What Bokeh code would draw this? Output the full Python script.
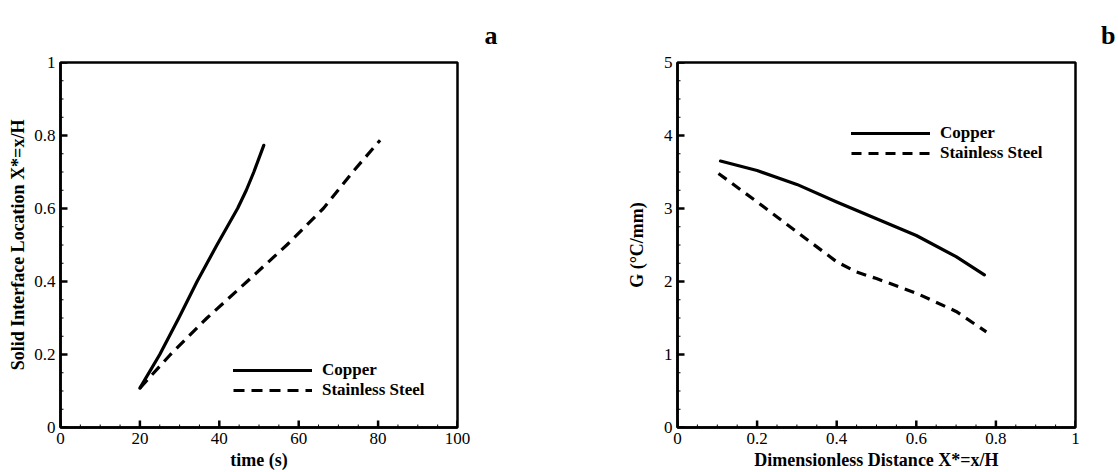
import math
from bokeh.plotting import figure
from bokeh.layouts import row
from bokeh.models import Legend, LegendItem, FixedTicker, Range1d
from bokeh.embed import file_html
from bokeh.resources import INLINE

# Panel a data
time_cu = [20, 25, 29.8, 34.4, 39.4, 44.6, 46.8, 48.7, 51.2]
loc_cu = [0.108, 0.2, 0.3, 0.4, 0.5, 0.6, 0.65, 0.7, 0.773]
time_ss = [20, 27.7, 36.9, 47.0, 57.0, 66.2, 73.6, 80.5]
loc_ss = [0.108, 0.2, 0.3, 0.4, 0.5, 0.6, 0.7, 0.787]

# Panel b data
dist_cu = [0.108, 0.2, 0.3, 0.4, 0.5, 0.6, 0.7, 0.771]
g_cu = [3.65, 3.52, 3.33, 3.09, 2.86, 2.63, 2.34, 2.09]
dist_ss = [0.103, 0.2, 0.3, 0.4, 0.45, 0.5, 0.6, 0.7, 0.776]
g_ss = [3.48, 3.09, 2.68, 2.27, 2.13, 2.04, 1.84, 1.59, 1.31]

x_ticks_a = [0, 20, 40, 60, 80, 100]
y_ticks_a = [0, 0.2, 0.4, 0.6, 0.8, 1]
x_ticks_b = [0, 0.2, 0.4, 0.6, 0.8, 1]
y_ticks_b = [0, 1, 2, 3, 4, 5]

SERIF = "Liberation Serif"


def minors(t):
    return [t[i] + (t[i + 1] - t[i]) * k / 4 for i in range(len(t) - 1) for k in range(1, 4)]


def style(p, xticks, yticks, xlabel, ylabel):
    p.xaxis.ticker = FixedTicker(ticks=xticks, minor_ticks=[])
    p.yaxis.ticker = FixedTicker(ticks=yticks, minor_ticks=[])
    for ax in (p.xaxis[0], p.yaxis[0]):
        ax.axis_line_width = 2.5
        ax.axis_line_color = "black"
        ax.major_tick_in = 0
        ax.major_tick_out = 0
        ax.minor_tick_in = 0
        ax.minor_tick_out = 0
        ax.major_label_text_font = SERIF
        ax.major_label_text_font_size = "17px"
        ax.major_label_text_color = "black"
        ax.axis_label_text_font = SERIF
        ax.axis_label_text_font_size = "18px"
        ax.axis_label_text_font_style = "bold"
        ax.axis_label_text_color = "black"
        ax.major_label_standoff = 5
        ax.axis_label_standoff = 3
    p.xaxis.axis_label = xlabel
    p.yaxis.axis_label = ylabel
    p.xgrid.visible = False
    p.ygrid.visible = False
    p.outline_line_color = "black"
    p.outline_line_width = 2.5
    p.outline_line_alpha = 1.0
    p.title.align = "right"
    p.title.offset = -40
    p.title.text_font = SERIF
    p.title.text_font_style = "bold"
    p.title.text_font_size = "26px"
    p.title.text_color = "black"
    p.title.standoff = 26
    # inward tick marks: dash markers centred on the axis lines (outer half clipped by the frame)
    x0 = p.x_range.start
    y0 = p.y_range.start
    p.scatter(xticks, [y0] * len(xticks), marker="dash", angle=math.pi / 2, size=14,
              line_color="black", line_width=2.5)
    p.scatter(minors(xticks), [y0] * len(minors(xticks)), marker="dash", angle=math.pi / 2, size=6,
              line_color="black", line_width=1)
    p.scatter([x0] * len(yticks), yticks, marker="dash", size=14, line_color="black", line_width=2.5)
    p.scatter([x0] * len(minors(yticks)), minors(yticks), marker="dash", size=6,
              line_color="black", line_width=1)


def add_legend(p, r1, r2, loc):
    leg = Legend(items=[LegendItem(label="Copper", renderers=[r1]),
                        LegendItem(label="Stainless Steel", renderers=[r2])],
                 location=loc, glyph_width=79, glyph_height=20, label_height=20,
                 label_standoff=10, spacing=0, padding=0, margin=0,
                 border_line_color=None, background_fill_alpha=0,
                 label_text_font=SERIF, label_text_font_style="bold",
                 label_text_font_size="17px", label_text_color="black")
    p.add_layout(leg)


# Panel a
pa = figure(width=560, height=472, output_backend="svg", toolbar_location=None,
            title="a", x_range=Range1d(0, 100), y_range=Range1d(0, 1),
            min_border_left=60, min_border_right=103, min_border_top=62, min_border_bottom=44)
style(pa, x_ticks_a, y_ticks_a, "time (s)", "Solid Interface Location X*=x/H")
ra1 = pa.line(time_cu, loc_cu, line_width=3.2, line_color="black", line_cap="round", line_join="round")
ra2 = pa.line(time_ss, loc_ss, line_width=3.2, line_color="black", line_dash="11 7")
add_legend(pa, ra1, ra2, (173, 27))

# Panel b
pb = figure(width=558, height=472, output_backend="svg", toolbar_location=None,
            title="b", x_range=Range1d(0, 1), y_range=Range1d(0, 5),
            min_border_left=117, min_border_right=43, min_border_top=62, min_border_bottom=44)
style(pb, x_ticks_b, y_ticks_b, "Dimensionless Distance X*=x/H", "G (°C/mm)")
pb.yaxis[0].axis_label_standoff = 14
rb1 = pb.line(dist_cu, g_cu, line_width=3.2, line_color="black", line_cap="round", line_join="round")
rb2 = pb.line(dist_ss, g_ss, line_width=3.2, line_color="black", line_dash="10 7")
add_legend(pb, rb1, rb2, (174, 264))

layout = row(pa, pb)
open("out.html", "w").write(file_html(layout, INLINE))
